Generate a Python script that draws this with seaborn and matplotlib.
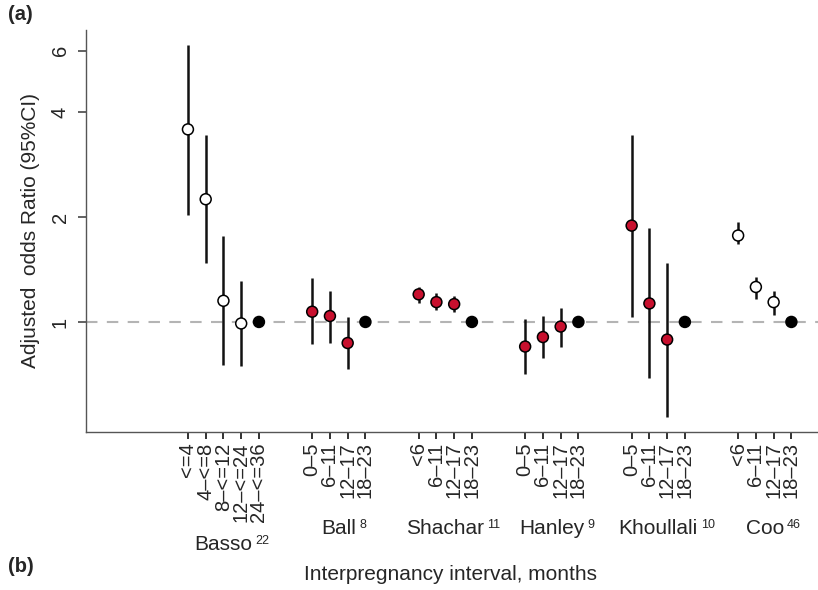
import matplotlib
matplotlib.use("Agg")
from matplotlib import pyplot as plt
from matplotlib import transforms
import seaborn as sns
import pandas as pd
import numpy as np

# studies, their reference numbers and marker kind
studies = ["Basso", "Ball", "Shachar", "Hanley", "Khoullali", "Coo"]
study_refs = ["22", "8", "11", "9", "10", "46"]
study_kind = ["open", "red", "red", "red", "red", "open"]

# interval labels per study (last one is the reference category)
basso_labels = ["<=4", "4\u2013<=8", "8\u2013<=12", "12\u2013<=24", "24\u2013<=36"]
ball_labels = ["0\u20135", "6\u201311", "12\u201317", "18\u201323"]
shachar_labels = ["<6", "6\u201311", "12\u201317", "18\u201323"]
hanley_labels = ["0\u20135", "6\u201311", "12\u201317", "18\u201323"]
khoullali_labels = ["0\u20135", "6\u201311", "12\u201317", "18\u201323"]
coo_labels = ["<6", "6\u201311", "12\u201317", "18\u201323"]

# adjusted odds ratios with 95% CI
basso_or = [3.57, 2.25, 1.15, 0.99, 1.0]
basso_lo = [2.03, 1.48, 0.75, 0.745, 1.0]
basso_hi = [6.25, 3.43, 1.77, 1.31, 1.0]

ball_or = [1.07, 1.04, 0.87, 1.0]
ball_lo = [0.865, 0.87, 0.735, 1.0]
ball_hi = [1.335, 1.225, 1.03, 1.0]

shachar_or = [1.20, 1.14, 1.125, 1.0]
shachar_lo = [1.13, 1.08, 1.07, 1.0]
shachar_hi = [1.26, 1.21, 1.19, 1.0]

hanley_or = [0.85, 0.905, 0.97, 1.0]
hanley_lo = [0.71, 0.79, 0.845, 1.0]
hanley_hi = [1.02, 1.04, 1.10, 1.0]

khoullali_or = [1.89, 1.13, 0.89, 1.0]
khoullali_lo = [1.03, 0.69, 0.535, 1.0]
khoullali_hi = [3.45, 1.86, 1.48, 1.0]

coo_or = [1.77, 1.26, 1.14, 1.0]
coo_lo = [1.67, 1.16, 1.05, 1.0]
coo_hi = [1.94, 1.35, 1.23, 1.0]

yticks = [1, 2, 4, 6]

all_labels = [basso_labels, ball_labels, shachar_labels, hanley_labels, khoullali_labels, coo_labels]
all_or = [basso_or, ball_or, shachar_or, hanley_or, khoullali_or, coo_or]
all_lo = [basso_lo, ball_lo, shachar_lo, hanley_lo, khoullali_lo, coo_lo]
all_hi = [basso_hi, ball_hi, shachar_hi, hanley_hi, khoullali_hi, coo_hi]

rows = []
pos = 0
centers = []
for g, study in enumerate(studies):
    n = len(all_labels[g])
    start = pos
    for i in range(n):
        kind = "ref" if i == n - 1 else study_kind[g]
        rows.append({"study": study, "label": all_labels[g][i], "pos": pos,
                     "or": all_or[g][i], "lo": all_lo[g][i], "hi": all_hi[g][i], "kind": kind})
        pos += 1
    centers.append((start + pos - 1) / 2)
    pos += 2
df = pd.DataFrame(rows)

sns.set_style("ticks")
plt.rcParams["font.family"] = ["Liberation Sans", "DejaVu Sans"]

fig = plt.figure(figsize=(8.18, 5.9), dpi=100)
ax = fig.add_axes([0.105, 0.268, 0.895, 0.681])

ax.axhline(1, color="#b4b4b4", lw=1.5, ls=(0, (5.5, 4.5)), zorder=1)

ci = df[df["kind"] != "ref"]
ax.vlines(ci["pos"], ci["lo"], ci["hi"], color="#111111", lw=1.8, zorder=2)

sns.scatterplot(
    data=df,
    x="pos",
    y="or",
    hue="kind",
    palette={"open": "white", "red": "#c8102e", "ref": "black"},
    edgecolor="black",
    linewidth=1.1,
    s=62,
    legend=False,
    zorder=3,
    ax=ax
)

ax.set_yscale("log")
ax.set_ylim(0.4836, 6.88)
ax.set_yticks(yticks)
ax.set_yticklabels([str(v) for v in yticks], rotation=90, va="center", fontsize=14.5)
ax.yaxis.set_minor_locator(matplotlib.ticker.NullLocator())
ax.set_xlim(-5.75, 35.5)
ax.set_xticks(df["pos"])
ax.set_xticklabels(df["label"], rotation=90, fontsize=14.5)
ax.tick_params(axis="x", bottom=True, direction="out", length=5, width=1.3, color="#222222", pad=2.5)
ax.tick_params(axis="y", left=True, direction="out", length=6, width=1.3, color="#555555", pad=5.5)

sns.despine(ax=ax)
for side in ["left", "bottom"]:
    ax.spines[side].set_color("#555555")
    ax.spines[side].set_linewidth(1)

ax.set_xlabel("")
ax.set_ylabel("Adjusted  odds Ratio (95%CI)", fontsize=15)
ax.yaxis.set_label_coords(-0.0628, 0.5)

# study names with superscript reference numbers
fig.canvas.draw()
renderer = fig.canvas.get_renderer()
trans = transforms.blended_transform_factory(ax.transData, fig.transFigure)
for g, study in enumerate(studies):
    y = 1 - (545 if study == "Basso" else 529) / 590
    t = ax.text(centers[g], y, study, transform=trans, ha="center", va="center", fontsize=15)
    bb = t.get_window_extent(renderer)
    fig.text((bb.x1 + 3) / fig.bbox.width, (bb.y1 + 1) / fig.bbox.height, study_refs[g],
             ha="left", va="top", fontsize=9)

fig.text(451 / 818, 1 - 574 / 590, "Interpregnancy interval, months", ha="center", va="center", fontsize=15)
fig.text(0.01, 1 - 14 / 590, "(a)", fontweight="bold", ha="left", va="center", fontsize=14.5)
fig.text(0.01, 1 - 567 / 590, "(b)", fontweight="bold", ha="left", va="center", fontsize=14.5)

fig.savefig("out.png", dpi=100)
